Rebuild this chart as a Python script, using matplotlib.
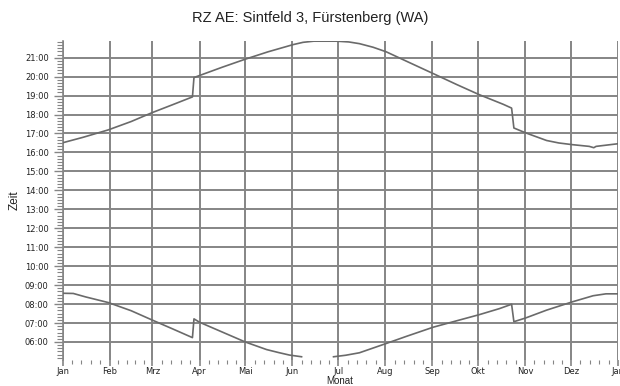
import matplotlib.pyplot as plt
from matplotlib.ticker import FixedLocator, MultipleLocator
import numpy as np

title = "RZ AE: Sintfeld 3, Fürstenberg (WA)"
months = ["Jan", "Feb", "Mrz", "Apr", "Mai", "Jun", "Jul", "Aug", "Sep", "Okt", "Nov", "Dez", "Jan"]
month_start = [0, 31, 59, 90, 120, 151, 181, 212, 243, 273, 304, 334, 365]

# day of year -> time of day in hours
sunset_day = [0, 13.5, 30, 45, 58.5, 72, 85.3, 86.3, 90, 105, 120, 135, 151.5, 158, 165, 180,
              188, 195, 204, 212.6, 226, 243.5, 259, 273.7, 289.5, 295, 296.5, 304, 318, 326,
              335, 346, 349, 350.5, 365]
sunset = [16.51, 16.80, 17.19, 17.63, 18.09, 18.51, 18.93, 19.95, 20.06, 20.50, 20.92, 21.31, 21.69, 21.81, 21.87, 21.87,
          21.83, 21.74, 21.55, 21.31, 20.81, 20.16, 19.58, 19.05, 18.54, 18.34, 17.29, 17.04, 16.63, 16.50,
          16.41, 16.32, 16.25, 16.32, 16.46]

sunrise_day = [0, 7, 15, 22, 30, 45, 58.5, 72, 85.3, 86.3, 90, 105, 120, 134, 142, 149, 157, 167,
               178, 186, 195, 212.6, 226, 243.5, 259, 273.7, 287, 295, 296.5, 304, 318, 335,
               348.6, 357, 365]
# None: curve runs below the visible range in June
sunrise = [8.57, 8.56, 8.38, 8.24, 8.08, 7.65, 7.17, 6.70, 6.23, 7.22, 7.04, 6.52, 6.00, 5.60, 5.44, 5.31, 5.22, None,
           5.22, 5.30, 5.43, 5.92, 6.30, 6.78, 7.12, 7.44, 7.76, 7.99, 7.07, 7.26, 7.68, 8.12,
           8.44, 8.54, 8.54]

grid_col = "#858585"
line_col = "#6a6a6a"
text_col = "#222222"

fig = plt.figure(figsize=(6.2, 3.86), dpi=100)
ax = fig.add_axes([0.101, 0.0674, 0.896, 0.8264])

ax.plot(sunset_day, sunset, color=line_col, lw=1.2, zorder=3)
ax.plot(sunrise_day, np.array(sunrise, dtype=float), color=line_col, lw=1.2, zorder=3)

ax.set_xlim(0, 365)
ax.set_ylim(5.05, 21.88)

# x axis: months
ax.xaxis.set_major_locator(FixedLocator(month_start))
ax.set_xticklabels(months)
minor_x = []
for a, b in zip(month_start[:-1], month_start[1:]):
    for k in range(1, 5):
        minor_x.append(a + k * (b - a) / 5)
ax.xaxis.set_minor_locator(FixedLocator(minor_x))

# y axis: hours
hours = list(range(6, 22))
ax.yaxis.set_major_locator(FixedLocator(hours))
ax.set_yticklabels(["%02d:00" % h for h in hours])
ax.yaxis.set_minor_locator(MultipleLocator(1 / 6))

ax.grid(True, which="major", color=grid_col, lw=1.4)
ax.set_axisbelow(True)

for s in ["top", "right", "bottom"]:
    ax.spines[s].set_visible(False)
ax.spines["left"].set_color(grid_col)
ax.spines["left"].set_linewidth(1.2)

ax.tick_params(axis="y", which="major", length=6.5, width=1.0, color=grid_col, pad=3.5,
               labelsize=6, labelcolor=text_col)
ax.tick_params(axis="y", which="minor", length=4, width=0.8, color=grid_col)
ax.tick_params(axis="x", which="major", length=4, width=1.2, color=grid_col, pad=1,
               labelsize=6, labelcolor=text_col)
ax.tick_params(axis="x", which="minor", length=3, width=0.8, color=grid_col)

ax.set_ylabel("Zeit", fontsize=8.5, family="Liberation Sans", color=text_col, labelpad=3)
fig.text(0.548, 0.0, "Monat", ha="center", va="bottom", fontsize=7,
         family="Liberation Sans", color=text_col)

fig.text(0.5, 0.953, title, ha="center", va="center", fontsize=10.5,
         family="Liberation Sans", color=text_col)

fig.savefig("out.png", dpi=100)
